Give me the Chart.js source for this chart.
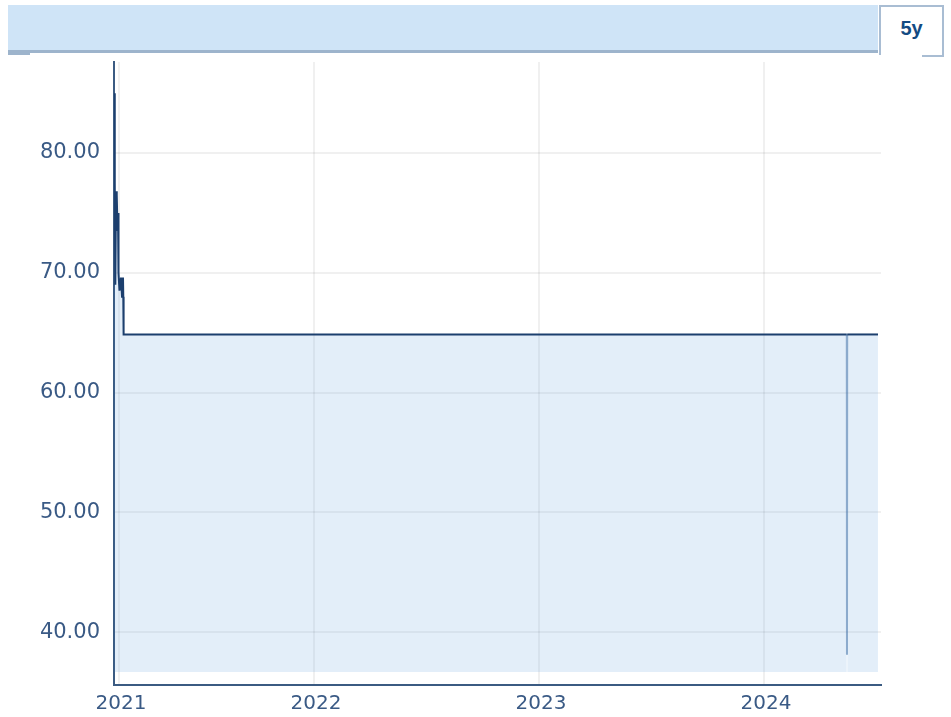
<!DOCTYPE html>
<html>
<head>
<meta charset="utf-8">
<script src="https://cdn.jsdelivr.net/npm/chart.js@4"></script>
<style>
  body { margin: 0; background: #fff; width: 951px; height: 717px; overflow: hidden; position: relative; }
  #chart { position: absolute; left: 0; top: 0; }
  .bar { position: absolute; left: 8px; top: 5px; width: 870px; height: 45px; background: #cfe4f7; border-bottom: 3px solid #9db4cc; }
  .stub { position: absolute; left: 8px; top: 53px; width: 22px; height: 2px; background: #9db4cc; }
  .range-btn { position: absolute; left: 879px; top: 5px; width: 61px; height: 48px; background: #fff;
    border: 2px solid #a9bdd3; border-bottom: none;
    font: bold 20px "Liberation Sans", Arial, sans-serif; color: #134a82; text-align: center; line-height: 42px; }
  .range-btn::after { content: ""; position: absolute; right: -2px; bottom: -2px; width: 22px; height: 2px; background: #a9bdd3; }
</style>
</head>
<body>
<canvas id="chart" width="951" height="717"></canvas>
<div class="bar"></div>
<div class="stub"></div>
<div class="range-btn">5y</div>
<script>
// price history, x = fractional year
const dates = [
  2021.1123, 2021.1132, 2021.1146, 2021.1154, 2021.1168, 2021.1199, 2021.1221, 2021.1243,
  2021.1266, 2021.1288, 2021.1310, 2021.1354, 2021.1421, 2021.1466, 2021.1510, 2021.1523,
  2021.1537, 2024.3680, 2024.3688, 2024.3697, 2024.5066
];
const prices = [
  78.0, 85.0, 85.0, 77.5, 69.0, 76.8, 75.5, 76.5,
  73.5, 75.0, 70.0, 68.5, 69.6, 68.0, 69.6, 68.0,
  64.85, 64.85, 38.1, 64.85, 64.85
];

const xTickPos = [2021.133, 2022, 2023, 2024];
const xTickLabels = ['2021', '2022', '2023', '2024'];
const yTicks = [40, 50, 60, 70, 80];

const xMin = 2021.111, xMax = 2024.52;
const yMin = 35.58, yMax = 87.6;
const fillBase = 36.67;

const labelColor = '#3a5a85';
const axisColor = '#3b5b82';
const gridColor = 'rgba(0,0,0,0.06)';

const points = dates.map((d, i) => ({ x: d, y: prices[i] }));

new Chart(document.getElementById('chart'), {
  type: 'line',
  data: {
    datasets: [{
      data: points,
      borderColor: '#1c3f6e',
      borderWidth: 2,
      pointRadius: 0,
      tension: 0,
      fill: { target: { value: fillBase } },
      backgroundColor: 'rgba(68,142,215,0.15)',
      segment: {
        // the one-day dip is drawn fainter
        borderColor: ctx => (ctx.p0.parsed.y < 50 || ctx.p1.parsed.y < 50) ? 'rgba(60,110,165,0.55)' : undefined
      }
    }]
  },
  options: {
    responsive: false,
    animation: false,
    layout: { padding: { top: 62, right: 70, left: 0, bottom: 0 } },
    plugins: { legend: { display: false }, tooltip: { enabled: false } },
    scales: {
      x: {
        type: 'linear',
        min: xMin,
        max: xMax,
        afterBuildTicks: scale => { scale.ticks = xTickPos.map(v => ({ value: v })); },
        afterFit: scale => { scale.height = 32; },
        ticks: {
          autoSkip: false,
          maxRotation: 0,
          padding: 7,
          labelOffset: 2,
          color: labelColor,
          font: { family: 'DejaVu Sans', size: 20 },
          callback: (v, i) => xTickLabels[i]
        },
        grid: { color: gridColor, lineWidth: 2, drawTicks: false },
        border: { color: axisColor, width: 2 }
      },
      y: {
        min: yMin,
        max: yMax,
        afterBuildTicks: scale => { scale.ticks = yTicks.map(v => ({ value: v })); },
        afterFit: scale => { scale.width = 114; },
        ticks: {
          padding: 14,
          color: labelColor,
          font: { family: 'DejaVu Sans', size: 21 },
          callback: v => v.toFixed(2)
        },
        grid: { color: gridColor, lineWidth: 2, drawTicks: false },
        border: { color: axisColor, width: 2 }
      }
    }
  }
});
</script>
</body>
</html>
